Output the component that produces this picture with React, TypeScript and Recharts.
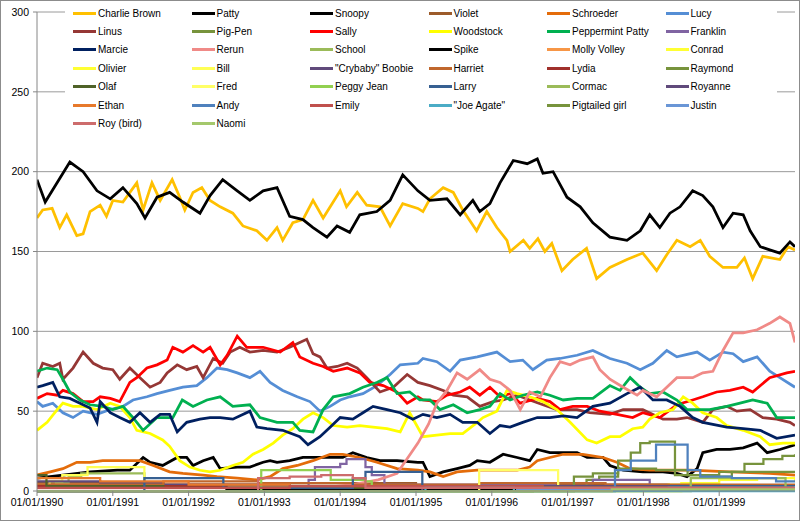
import React from 'react';
import { LineChart, Line, XAxis, YAxis, CartesianGrid } from 'recharts';

// [months since 01/01/1990, appearances]
type Pt = [number, number];

const charlieBrown: Pt[] = [
  [0, 171], [0.9, 176], [2.4, 177], [3.6, 165], [4.7, 173], [6.3, 160], [7.3, 161], [8.4, 175], [10, 179], [11, 172],
  [12, 182], [13.6, 181], [15.8, 193], [16.8, 176], [18.2, 193], [19.5, 182], [21.4, 195], [22.6, 184], [23.4, 176],
  [24.7, 187], [26.1, 190], [27.4, 182], [29, 178], [31, 174], [32.6, 166], [34.8, 163], [36.4, 157], [38, 165],
  [38.9, 157], [40.5, 168], [42.1, 170], [43.7, 182], [45.3, 171], [48, 188], [49, 178], [50.7, 187], [52.2, 179],
  [54.3, 178], [55.9, 166], [57.9, 180], [60.3, 177], [61.1, 175], [62.2, 183], [64.3, 190], [65.9, 187], [67.4, 176],
  [69.6, 163], [71.2, 175], [72.8, 165], [74.4, 157], [74.9, 150], [77, 157], [78, 152], [79.3, 158], [80.4, 150],
  [81.5, 155], [83.1, 138], [84.8, 145], [87, 152], [88.6, 133], [90.7, 140], [93.4, 145], [95.9, 149], [98.1, 138],
  [99.7, 148], [101.3, 157], [103.4, 153], [105, 157], [106.5, 147], [108.6, 140], [110.8, 140], [112, 146],
  [113.3, 133], [114.9, 147], [117.6, 145], [118.9, 153], [120, 151],
];

const snoopy: Pt[] = [
  [0, 195], [1.3, 181], [5.2, 206], [7.3, 200], [9.5, 188], [11.6, 183], [13.6, 190], [15.8, 180], [17.1, 171],
  [19, 184], [21, 187], [23.1, 181], [25.8, 174], [27.4, 185], [29.4, 195], [31.7, 188], [33.7, 182], [35.8, 188],
  [38, 190], [40, 172], [42.1, 170], [43.7, 165], [45.9, 159], [47.5, 166], [49.5, 162], [51.1, 173], [53.8, 175],
  [55.9, 182], [57.9, 198], [60.3, 188], [62.2, 182], [64.9, 183], [67, 173], [69, 182], [70.1, 175], [71.7, 180],
  [73.3, 193], [75.4, 207], [77.6, 205], [79.2, 208], [80.1, 199], [81.7, 200], [83.9, 184], [86, 178], [88, 168],
  [90.7, 159], [93.4, 157], [95.5, 163], [97, 173], [98.6, 165], [100.2, 174], [101.8, 178], [103.8, 188],
  [105.4, 185], [107, 178], [108.6, 165], [110.2, 174], [111.8, 173], [112.9, 163], [114.5, 153], [116, 151],
  [117.6, 149], [119.2, 156], [120, 153],
];

const linus: Pt[] = [
  [0, 71], [0.9, 80], [2.5, 78], [3.6, 80], [4.1, 70], [5.7, 77], [7.3, 87], [8.9, 80], [10.4, 77], [12, 76],
  [13.1, 70], [14.7, 77], [16.3, 71], [17.9, 65], [19.5, 68], [20.6, 74], [22.2, 79], [23.7, 76], [25.3, 78],
  [26.3, 71], [27.9, 83], [29.4, 80], [30.6, 87], [32.1, 90], [33.7, 87], [35.8, 88], [38, 87], [40, 90], [41.6, 93],
  [42.7, 95], [43.7, 86], [44.8, 84], [45.9, 77], [47.5, 78], [49.1, 80], [50.7, 77], [52.2, 71], [54.3, 62],
  [56.4, 65], [58.6, 73], [60.3, 68], [62.2, 66], [64.3, 63], [65.9, 60], [68.1, 59], [70.1, 53], [72.2, 56],
  [73.8, 57], [76, 60], [78, 57], [80.1, 54], [82.3, 51], [85.5, 51], [87.5, 49], [90.7, 48], [92.8, 51], [95.9, 51],
  [99.1, 45], [101.3, 45], [102.9, 46], [105.4, 43], [107, 51], [109.2, 53], [110.8, 50], [112.9, 51], [114.9, 46],
  [117.1, 45], [119.2, 43], [120, 41],
];

const sally: Pt[] = [
  [0, 58], [1.6, 61], [3.2, 60], [4.1, 63], [5.7, 61], [7.3, 56], [8.9, 56], [10, 59], [11.6, 58], [13.1, 56],
  [14.7, 68], [15.8, 71], [17.4, 77], [19, 79], [20.6, 82], [21.5, 90], [23.1, 87], [24.7, 91], [26.3, 87], [27.4, 90],
  [29, 79], [30.1, 85], [31.7, 97], [33.2, 90], [35.8, 90], [38.5, 87], [40.5, 93], [41.6, 84], [43.7, 80], [45.3, 78],
  [46.9, 75], [49.1, 77], [51.1, 74], [52.7, 68], [54.8, 66], [57, 62], [58.6, 55], [60.3, 59], [61.1, 57],
  [63.3, 56], [64.9, 60], [67, 62], [68.5, 65], [70.1, 60], [71.7, 65], [73.3, 59], [74.9, 61], [76.5, 55],
  [79.2, 58], [81.2, 56], [82.8, 51], [84.8, 53], [87.1, 53], [89.1, 50], [91.8, 48], [94.3, 46], [95.9, 49],
  [98.6, 46], [101.3, 54], [103.8, 57], [105.4, 59], [107.6, 62], [109.7, 63], [111.8, 65], [113.3, 62], [116, 71],
  [118.7, 74], [120, 75],
];

const lucy: Pt[] = [
  [0, 56], [0.9, 53], [2.5, 55], [4.1, 49], [5.7, 46], [7.3, 50], [9.5, 48], [11.6, 51], [13.6, 53], [15.2, 57],
  [17.4, 59], [19, 61], [21, 63], [23.1, 65], [25.3, 66], [26.9, 71], [28.5, 77], [30.1, 76], [31.7, 74], [33.7, 71],
  [35.3, 75], [36.9, 68], [38.9, 63], [41.2, 59], [43.2, 56], [44.8, 50], [46.4, 53], [48, 57], [49.5, 59],
  [51.6, 61], [53.8, 66], [55.9, 73], [57.5, 79], [60.3, 80], [61.1, 83], [63.3, 81], [65.4, 75], [67, 82],
  [69.7, 84], [72.8, 87], [74.9, 81], [76.9, 82], [78.5, 76], [80.7, 82], [82.8, 83], [85.5, 85], [88, 88],
  [90.7, 83], [93.4, 80], [95.5, 76], [97.5, 80], [99.7, 88], [101.3, 84], [104.5, 87], [106.5, 82], [108.6, 87],
  [110.2, 86], [111.8, 81], [114, 84], [116, 75], [117.6, 71], [120, 65],
];

const rerun: Pt[] = [
  [0, 0], [40, 0], [45, 2], [50, 4], [54, 7], [57, 11], [60.3, 30], [62, 42], [63.3, 55], [64.9, 63], [66.5, 74],
  [68.1, 70], [70.1, 76], [71.7, 70], [73.3, 68], [74.9, 63], [76.5, 51], [78, 62], [79.7, 59], [81.2, 71],
  [82.8, 81], [84.4, 79], [86, 82], [88, 84], [89.1, 76], [90.7, 70], [92.8, 65], [95, 60], [95.9, 63], [98.1, 59],
  [99.7, 65], [101.3, 71], [103.8, 71], [105.4, 74], [107, 75], [108.6, 88], [110.2, 99], [111.8, 99], [114, 101],
  [116, 105], [117.6, 109], [119.2, 105], [120, 93],
];

const peppermintPatty: Pt[] = [
  [0, 75], [1.6, 77], [3.2, 76], [4.1, 70], [5.2, 62], [6.8, 57], [8.4, 54], [10.4, 53], [12, 51], [13.6, 53],
  [15.2, 46], [16.8, 38], [19, 46], [21.5, 46], [23, 57], [24.7, 53], [26.9, 57], [29, 59], [31, 53], [33.7, 54],
  [35.3, 46], [38, 43], [40.5, 43], [41.6, 38], [43.7, 37], [45.3, 51], [46.9, 59], [49.5, 61], [51.6, 65],
  [53.8, 68], [55.4, 71], [57, 61], [59, 62], [60.6, 57], [62.2, 57], [63.8, 51], [65.9, 54], [68.1, 49], [70.1, 51],
  [71.7, 53], [73.3, 61], [74.9, 57], [76.9, 60], [79.2, 62], [81.2, 60], [83.3, 57], [85.5, 58], [88, 58],
  [90.7, 66], [92.3, 63], [93.9, 71], [95.5, 65], [97, 61], [99.1, 62], [101.3, 57], [102.9, 51], [105, 51],
  [106.5, 51], [109.2, 53], [111.3, 55], [113.3, 57], [115.6, 55], [117.1, 46], [118.7, 46], [120, 46],
];

const marcie: Pt[] = [
  [0, 65], [0.9, 66], [2.5, 68], [3.6, 59], [5.2, 58], [6.8, 55], [8.4, 52], [9.5, 43], [10, 56], [11.6, 49],
  [13.1, 46], [14.7, 43], [16.3, 49], [17.9, 43], [19.5, 48], [21, 48], [22.2, 37], [23.7, 43], [25.8, 45],
  [27.4, 46], [29, 46], [31, 45], [33.7, 50], [34.8, 40], [36.4, 39], [38.9, 38], [41.6, 34], [42.9, 29], [44.8, 34],
  [46.4, 40], [48, 46], [50, 45], [51.6, 49], [53.2, 53], [55.4, 51], [57.5, 49], [59.5, 45], [61.1, 48], [63.3, 46],
  [65.4, 48], [67.4, 43], [69.7, 43], [71.7, 36], [73.3, 41], [74.9, 40], [76.9, 43], [79.2, 46], [81.2, 46],
  [83.3, 47], [85.5, 46], [88, 53], [90.7, 55], [93.4, 61], [95.5, 65], [97.5, 57], [99.7, 57], [101.8, 53],
  [103.8, 46], [105.4, 43], [109.2, 40], [111.8, 39], [114.5, 38], [117.1, 33], [120, 35],
];

const woodstock: Pt[] = [
  [0, 38], [1.6, 43], [3.2, 51], [4.1, 55], [5.7, 53], [7.3, 53], [9.5, 51], [11.6, 55], [13.1, 53], [14.7, 46],
  [15.8, 38], [17.9, 36], [19.9, 32], [21, 28], [22.6, 19], [24.2, 15], [25.8, 13], [27.4, 12], [29, 13], [31, 16],
  [32.6, 18], [34.2, 23], [35.8, 26], [37.4, 30], [38.9, 35], [40.5, 39], [42.1, 45], [43.7, 49], [45.3, 46],
  [46.9, 41], [49.1, 40], [51.1, 41], [53.2, 40], [55.4, 39], [57.5, 37], [59, 49], [61.1, 34], [63.3, 35],
  [65.4, 36], [67.4, 36], [69.7, 43], [70.6, 46], [72.8, 50], [74.4, 63], [76, 61], [78, 59], [80.1, 56], [82.3, 51],
  [84.4, 43], [87.1, 32], [88.6, 30], [90.7, 34], [92.3, 34], [94.3, 39], [95.9, 40], [97, 45], [98.6, 49],
  [100.7, 51], [102.3, 59], [103.8, 55], [105.4, 49], [107.6, 46], [109.2, 41], [111.8, 38], [114.5, 34], [116, 29],
  [118.1, 30], [120, 30],
];

const patty: Pt[] = [
  [0, 8], [4.1, 10], [8.4, 12], [12.7, 13], [14.7, 13], [16.8, 21], [17.9, 18], [19.9, 16], [22.2, 21], [23.7, 21],
  [24.7, 16], [26.3, 19], [27.9, 21], [29, 14], [31.7, 15], [33.7, 15], [35.8, 18], [36.9, 19], [38, 18], [40, 19],
  [42.1, 21], [44.3, 21], [46.4, 21], [48.4, 21], [50, 24], [52.2, 21], [54.3, 19], [57, 19], [60.3, 18], [61.1, 18],
  [62.2, 9], [64.3, 12], [66.5, 14], [68.5, 16], [69.7, 19], [71.7, 18], [73.8, 23], [76, 21], [78, 19], [79.2, 26],
  [81.2, 24], [83.3, 24], [85.5, 24], [87.1, 21], [89.6, 21], [90.7, 16], [92.8, 13], [95.9, 12], [99.1, 12],
  [101.3, 11], [102.9, 9], [104.5, 14], [105.4, 24], [107.6, 26], [109.7, 26], [111.8, 27], [114, 30], [115.6, 24],
  [117.6, 26], [120, 29],
];

const schroeder: Pt[] = [
  [0, 10], [2.1, 12], [4.1, 14], [6.3, 18], [8.4, 18], [10.4, 19], [13.1, 19], [16.3, 19], [18.4, 16], [21, 12],
  [23.1, 11], [26.3, 10], [28.5, 9], [31.7, 8], [34.8, 7], [36.9, 9], [38.9, 14], [41.2, 16], [43.7, 19], [46.4, 23],
  [48.4, 23], [51.1, 21], [53.8, 18], [57, 14], [60.3, 13], [62.2, 12], [64.3, 9], [66.5, 12], [69.7, 13], [72.8, 13],
  [76, 13], [78, 15], [79.2, 19], [81.2, 21], [83.3, 23], [86.4, 23], [89.6, 21], [91.8, 18], [93.9, 14], [97, 13],
  [103.4, 13], [109.7, 12], [116, 11], [120, 10],
];

// small characters, drawn as steps
const violet: Pt[] = [[0, 5], [20, 4], [40, 5], [60, 3], [80, 4], [100, 3], [120, 3]];
const pigPen: Pt[] = [
  [0, 2], [40, 2], [78, 3], [87, 7], [89, 9], [92, 19], [94, 24], [95.5, 30], [97, 31], [101, 10], [108, 12],
  [112, 17], [115, 20], [118, 22], [120, 23],
];
const franklin: Pt[] = [[0, 0], [42, 0], [43, 7], [44, 15], [48, 17], [49, 20], [52, 15], [53, 10], [55, 4], [82, 5], [88, 7], [97, 3], [120, 3]];
const school: Pt[] = [[0, 2], [3, 5], [5, 9], [7, 11], [16, 11], [17, 2], [120, 1]];
const spike: Pt[] = [[0, 3], [10, 2], [30, 1], [120, 0]];
const mollyVolley: Pt[] = [[0, 4], [30, 3], [60, 2], [90, 3], [120, 2]];
const conrad: Pt[] = [[0, 0], [100, 0], [102, 5], [108, 7], [114, 8], [120, 6]];
const olivier: Pt[] = [[0, 0], [84, 0], [85, 3], [100, 4], [104, 1], [120, 1]];
const bill: Pt[] = [[0, 2], [2, 6], [4, 10], [8, 15], [16, 15], [17, 2], [120, 1]];
const crybabyBoobie: Pt[] = [[0, 6], [10, 5], [20, 4], [40, 3], [60, 2], [120, 1]];
const harriet: Pt[] = [[0, 4], [20, 6], [35, 5], [50, 4], [70, 5], [90, 4], [120, 4]];
const lydia: Pt[] = [[0, 3], [30, 2], [60, 3], [90, 2], [120, 3]];
const raymond: Pt[] = [[0, 0], [84, 0], [85, 9], [88, 11], [92, 14], [98, 13], [103, 10], [106, 9], [110, 12], [120, 12]];
const olaf: Pt[] = [[0, 10], [1.5, 3], [20, 2], [120, 1]];
const fred: Pt[] = [[0, 0], [69, 0], [70, 13], [82, 13], [82.5, 2], [120, 1]];
const peggyJean: Pt[] = [[0, 0], [35, 0], [35.5, 13], [46, 13], [46.5, 7], [52, 6], [53, 2], [120, 1]];
const larry: Pt[] = [[0, 0], [16.5, 0], [17, 8], [29, 8], [29.5, 2], [49.5, 2], [50, 8], [52, 12], [60.5, 12], [61, 3], [120, 2]];
const cormac: Pt[] = [[0, 0], [103, 0], [103.5, 8], [118, 8], [118.5, 2], [120, 2]];
const royanne: Pt[] = [[0, 0], [60, 0], [61, 2], [80, 3], [100, 2], [120, 3]];
const ethan: Pt[] = [[0, 8], [10, 6], [24, 4], [40, 3], [80, 2], [120, 2]];
const andy: Pt[] = [[0, 0], [91, 0], [91.5, 13], [94, 19], [98, 29], [102.5, 29], [103, 13], [105, 9], [110, 8], [117, 6], [120, 6]];
const emily: Pt[] = [[0, 2], [40, 3], [80, 2], [120, 2]];
const joeAgate: Pt[] = [[0, 0], [61, 0], [61.5, 2], [75, 2], [75.5, 0], [120, 0]];
const pigtailedGirl: Pt[] = [[0, 0], [78, 0], [78.5, 2], [120, 2]];
const justin: Pt[] = [[0, 0], [75, 0], [76, 1], [100, 2], [120, 3]];
const royBird: Pt[] = [[0, 0], [34, 0], [35, 8], [40, 9], [45, 10], [50, 8], [52, 2], [120, 1]];
const naomi: Pt[] = [[0, 0], [90, 0], [91, 1], [120, 1]];

const yearTicks = [0, 12, 24, 36, 48, 60, 72, 84, 96, 108];
const valueTicks = [0, 50, 100, 150, 200, 250, 300];

// legend order (row by row, 6 per row)
const series: { name: string; color: string; pts: Pt[]; step?: boolean }[] = [
  { name: 'Charlie Brown', color: '#FFC000', pts: charlieBrown },
  { name: 'Patty', color: '#000000', pts: patty },
  { name: 'Snoopy', color: '#000000', pts: snoopy },
  { name: 'Violet', color: '#9C5B2A', pts: violet, step: true },
  { name: 'Schroeder', color: '#E46C0A', pts: schroeder },
  { name: 'Lucy', color: '#558ED5', pts: lucy },
  { name: 'Linus', color: '#953735', pts: linus },
  { name: 'Pig-Pen', color: '#77933C', pts: pigPen, step: true },
  { name: 'Sally', color: '#FF0000', pts: sally },
  { name: 'Woodstock', color: '#FFFF00', pts: woodstock },
  { name: 'Peppermint Patty', color: '#00B050', pts: peppermintPatty },
  { name: 'Franklin', color: '#8064A2', pts: franklin, step: true },
  { name: 'Marcie', color: '#002060', pts: marcie },
  { name: 'Rerun', color: '#F08A87', pts: rerun },
  { name: 'School', color: '#9BBB59', pts: school, step: true },
  { name: 'Spike', color: '#000000', pts: spike, step: true },
  { name: 'Molly Volley', color: '#F79646', pts: mollyVolley, step: true },
  { name: 'Conrad', color: '#FFFF33', pts: conrad, step: true },
  { name: 'Olivier', color: '#FFFF33', pts: olivier, step: true },
  { name: 'Bill', color: '#FFFF55', pts: bill, step: true },
  { name: '"Crybaby" Boobie', color: '#604A7B', pts: crybabyBoobie, step: true },
  { name: 'Harriet', color: '#C0672D', pts: harriet, step: true },
  { name: 'Lydia', color: '#A0302B', pts: lydia, step: true },
  { name: 'Raymond', color: '#77933C', pts: raymond, step: true },
  { name: 'Olaf', color: '#4F6228', pts: olaf, step: true },
  { name: 'Fred', color: '#FFFF66', pts: fred, step: true },
  { name: 'Peggy Jean', color: '#92D050', pts: peggyJean, step: true },
  { name: 'Larry', color: '#376092', pts: larry, step: true },
  { name: 'Cormac', color: '#9BBB59', pts: cormac, step: true },
  { name: 'Royanne', color: '#604A7B', pts: royanne, step: true },
  { name: 'Ethan', color: '#E7792B', pts: ethan, step: true },
  { name: 'Andy', color: '#4F81BD', pts: andy, step: true },
  { name: 'Emily', color: '#C0504D', pts: emily, step: true },
  { name: '"Joe Agate"', color: '#4BACC6', pts: joeAgate, step: true },
  { name: 'Pigtailed girl', color: '#77933C', pts: pigtailedGirl, step: true },
  { name: 'Justin', color: '#6A96D6', pts: justin, step: true },
  { name: 'Roy (bird)', color: '#CD6C6C', pts: royBird, step: true },
  { name: 'Naomi', color: '#A4C86C', pts: naomi, step: true },
];

const font = '"Liberation Sans", Arial, sans-serif';
const axisGrey = '#868686';

const dateLabel = (m: number) => `01/01/${1990 + Math.round(m / 12)}`;

export default function App() {
  return (
    <div
      style={{
        position: 'absolute', left: 0, top: 0, width: 800, height: 521, boxSizing: 'border-box',
        border: '1px solid #8c8c8c', background: '#fff', fontFamily: font,
      }}
    >
      <LineChart width={798} height={519} margin={{ top: 11, right: 4, left: 0, bottom: 0 }}>
        <CartesianGrid vertical={false} stroke="#9a9a9a" horizontalValues={valueTicks} />
        <XAxis
          dataKey="m" type="number" domain={[0, 120]} ticks={yearTicks} tickFormatter={dateLabel}
          height={29} tickSize={5} tickMargin={3} stroke={axisGrey} allowDataOverflow
          tick={{ fill: '#000', fontSize: 10.5, fontFamily: font }}
        />
        <YAxis
          type="number" domain={[0, 300]} ticks={valueTicks} width={36} tickSize={4} tickMargin={4}
          stroke={axisGrey} tick={{ fill: '#000', fontSize: 10.5, fontFamily: font }}
        />
        {series.map((s) => (
          <Line
            key={s.name} name={s.name} data={s.pts.map(([m, v]) => ({ m, v }))} dataKey="v"
            type={s.step ? 'stepAfter' : 'linear'} stroke={s.color} strokeWidth={s.step ? 2.25 : 2.75}
            dot={false} activeDot={false} isAnimationActive={false}
          />
        ))}
      </LineChart>

      {/* legend box sits over the top of the plot, like in the sheet */}
      <div
        style={{
          position: 'absolute', left: 64, top: 2, width: 712, height: 130, background: '#fff',
          display: 'grid', gridTemplateColumns: 'repeat(6, 118.5px)', gridAutoRows: '18.4px',
          paddingLeft: 8, paddingTop: 1, boxSizing: 'border-box', fontSize: 10, color: '#000',
        }}
      >
        {series.map((s) => (
          <div key={s.name} style={{ display: 'flex', alignItems: 'center', whiteSpace: 'nowrap' }}>
            <span style={{ display: 'inline-block', width: 23, height: 3, background: s.color, marginRight: 2 }} />
            <span>{s.name}</span>
          </div>
        ))}
      </div>
    </div>
  );
}
